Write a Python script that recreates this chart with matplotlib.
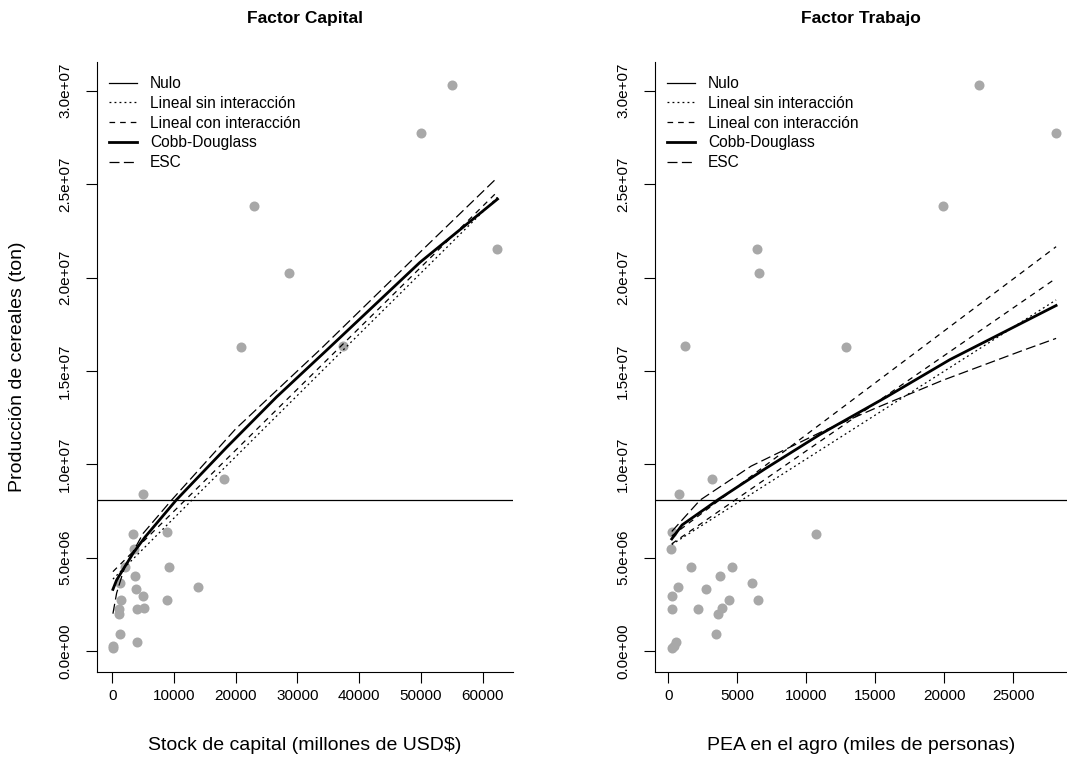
import numpy as np
import matplotlib
matplotlib.use('Agg')
import matplotlib.pyplot as plt
from matplotlib.ticker import FuncFormatter

plt.rcParams['font.family'] = ['Liberation Sans', 'DejaVu Sans']

# datos por pais: produccion (millones de ton), capital (millones USD$), PEA agro (miles)
produccion = np.array([30.31, 27.75, 23.84, 21.52, 20.26, 16.29, 16.35, 9.19, 8.41, 6.36,
                       6.25, 5.46, 4.50, 4.50, 4.00, 3.62, 3.43, 3.32, 2.92, 2.73,
                       2.73, 2.23, 2.23, 2.29, 1.98, 0.89, 0.49, 0.14, 0.25]) * 1e6
capital = [55100, 50000, 23000, 62400, 28600, 20800, 37400, 18100, 4900, 8800,
           3400, 3500, 2100, 9200, 3600, 1250, 13900, 3800, 5000, 1350,
           8800, 1100, 3950, 5150, 1050, 1250, 3950, 100, 150]
pea = [22500, 28100, 19900, 6400, 6550, 12900, 1200, 3200, 780, 290,
       10700, 170, 1650, 4650, 3750, 6050, 680, 2730, 250, 4420,
       6480, 250, 2170, 3870, 3620, 3460, 540, 290, 420]

# modelo nulo (media)
nulo = 8.08e6

# curvas ajustadas, panel capital
k_sin = [100, 12900, 37400, 62400]
y_sin_k = np.array([3.85, 8.08, 16.12, 24.3]) * 1e6
k_con = [100, 11800, 36400, 62400]
y_con_k = np.array([4.25, 8.08, 16.12, 24.6]) * 1e6
k_cd = [100, 700, 2000, 3500, 5300, 10400, 18500, 26600, 34700, 49800, 62400]
y_cd_k = np.array([3.3, 3.8, 4.5, 5.3, 6.1, 8.1, 10.9, 13.6, 16.1, 20.8, 24.2]) * 1e6
k_esc = [100, 700, 2000, 5000, 9600, 20000, 33600, 50000, 62400]
y_esc_k = np.array([2.0, 3.1, 4.5, 6.3, 8.08, 11.9, 16.12, 21.4, 25.36]) * 1e6

# curvas ajustadas, panel trabajo
l_sin = [250, 7700, 28100]
y_sin_l = np.array([5.7, 9.2, 18.8]) * 1e6
l_con = [250, 28100]
y_con_l = np.array([6.16, 21.65]) * 1e6
l_con2 = [250, 28100]
y_con2_l = np.array([5.74, 19.96]) * 1e6
l_cd = [250, 1000, 3600, 7000, 11000, 15800, 20400, 28100]
y_cd_l = np.array([6.0, 6.75, 8.1, 9.75, 11.6, 13.6, 15.6, 18.5]) * 1e6
l_esc = [250, 2300, 6000, 11000, 15000, 19900, 25700, 28100]
y_esc_l = np.array([6.4, 8.08, 9.9, 11.7, 13.0, 14.5, 16.1, 16.74]) * 1e6

yticks = np.arange(0, 3.01e7, 5e6)

DOT = (0, (1.5, 2.5))
DASH = (0, (4.5, 4))
LONG = (0, (8, 3.5))
punto = '#a8a8a8'

fig = plt.figure(figsize=(10.67, 7.62), dpi=100)
ax1 = fig.add_axes([97/1067, 1-672/762, 416/1067, 610/762])
ax2 = fig.add_axes([655/1067, 1-672/762, 412/1067, 610/762])


def estilo(ax, xlim, xticks):
    ax.set_xlim(*xlim)
    ax.set_ylim(-1.124e6, 3.154e7)
    ax.set_xticks(xticks)
    ax.set_xticklabels([str(int(t)) for t in xticks])
    ax.set_yticks(yticks)
    ax.yaxis.set_major_formatter(FuncFormatter(lambda v, p: '%.1e' % v))
    for s in ['top', 'right']:
        ax.spines[s].set_visible(False)
    for s in ['left', 'bottom']:
        ax.spines[s].set_linewidth(0.8)
    ax.tick_params(direction='out', length=8, width=0.8, labelsize=11)
    ax.tick_params(axis='x', pad=4)
    ax.tick_params(axis='y', pad=10)
    for lab in ax.get_yticklabels():
        lab.set_rotation(90)
        lab.set_va('center')


def panel(ax, x, curvas, titulo, xlab):
    ax.scatter(x, produccion, s=52, color=punto, zorder=2, linewidths=0)
    h = []
    h += ax.plot(ax.get_xlim(), [nulo, nulo], color='black', lw=0.9, label='Nulo')
    for xs, ys, ls, lw, lab in curvas:
        h += ax.plot(xs, ys, color='black', lw=lw, linestyle=ls, label=lab)
    ax.legend(handles=[l for l in h if not l.get_label().startswith('_')],
              loc='upper left', bbox_to_anchor=(0.03, 0.977), frameon=False,
              fontsize=11.2, handlelength=1.8, handletextpad=0.8,
              labelspacing=0.31, borderpad=0, borderaxespad=0)
    pos = ax.get_position()
    cx = (pos.x0 + pos.x1) / 2
    fig.text(cx, 1 - 18/762, titulo, ha='center', va='center',
             fontsize=12.5, fontweight='bold')
    fig.text(cx, 1 - 746/762, xlab, ha='center', va='center', fontsize=14)


estilo(ax1, (-2479, 64911), range(0, 60001, 10000))
estilo(ax2, (-964, 28890), range(0, 25001, 5000))

panel(ax1, capital, [
    (k_sin, y_sin_k, DOT, 0.9, 'Lineal sin interacción'),
    (k_con, y_con_k, DASH, 0.9, 'Lineal con interacción'),
    (k_cd, y_cd_k, '-', 2.0, 'Cobb-Douglass'),
    (k_esc, y_esc_k, LONG, 0.9, 'ESC'),
], 'Factor Capital', 'Stock de capital (millones de USD$)')

panel(ax2, pea, [
    (l_sin, y_sin_l, DOT, 0.9, 'Lineal sin interacción'),
    (l_con, y_con_l, DASH, 0.9, 'Lineal con interacción'),
    (l_con2, y_con2_l, DASH, 0.9, '_extra'),
    (l_cd, y_cd_l, '-', 2.0, 'Cobb-Douglass'),
    (l_esc, y_esc_l, LONG, 0.9, 'ESC'),
], 'Factor Trabajo', 'PEA en el agro (miles de personas)')

fig.text(18/1067, 1 - 367/762, 'Producción de cereales (ton)', rotation=90,
         ha='center', va='center', fontsize=14)

fig.savefig('out.png', dpi=100)
